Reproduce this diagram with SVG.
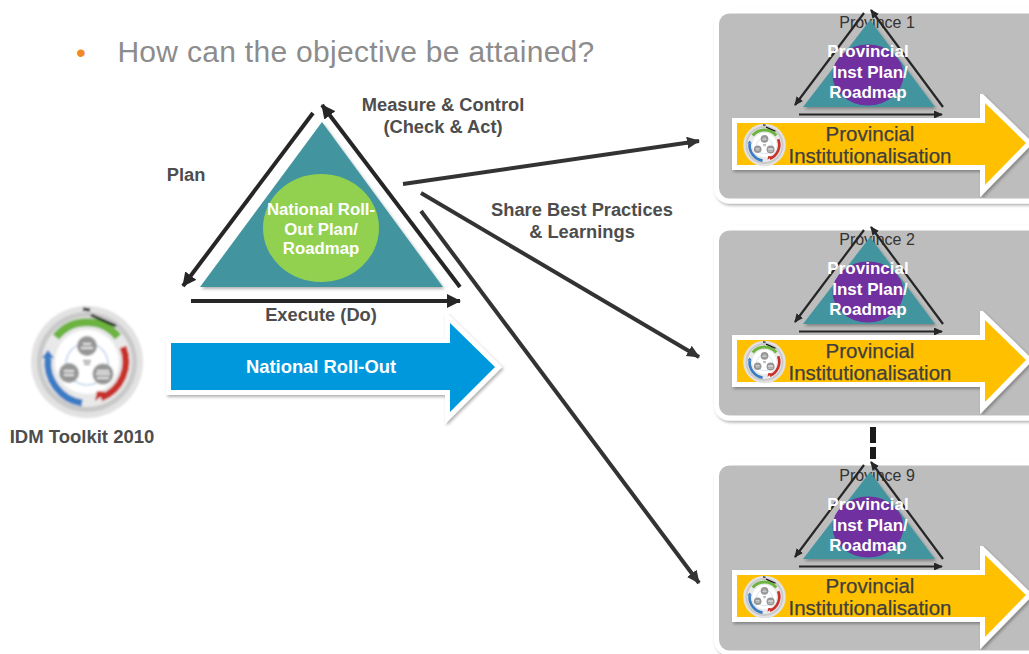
<svg xmlns="http://www.w3.org/2000/svg" xmlns:xlink="http://www.w3.org/1999/xlink" width="1029" height="654" viewBox="0 0 1029 654">
<style>
text{font-family:"Liberation Sans",Arial,sans-serif;text-anchor:middle}
.lab{font-size:18.300px;font-weight:bold;fill:#4d4d4d}
.wt{font-weight:bold;fill:#fff}
.pw{font-size:17px}
.pd{font-size:20.500px;fill:#3f3f3f;stroke:#3f3f3f;stroke-width:.25px}
.pn{font-size:16px;fill:#333}
.panel{fill:#bdbdbd;stroke:#fff;stroke-width:5px}
.tri{fill:#43959f}
.lp{fill:none;stroke:#262626;stroke-width:4px}
.sp{fill:none;stroke:#262626;stroke-width:2.200px}
.cn{fill:none;stroke:#333;stroke-width:4px}
.yel{fill:#ffc000;stroke:#fff;stroke-width:10px;paint-order:stroke}
</style>
<defs>
<filter id="sh" x="-10%" y="-10%" width="125%" height="125%"><feDropShadow dx="1.500" dy="2" stdDeviation="1.500" flood-color="#000" flood-opacity=".3"/></filter>
<filter id="soft" x="-10%" y="-10%" width="120%" height="120%"><feGaussianBlur stdDeviation=".8"/></filter>
<marker id="mL" markerUnits="userSpaceOnUse" markerWidth="16" markerHeight="14" refX="13" refY="7" orient="auto"><path d="M0 0L14 7L0 14z" fill="#262626"/></marker>
<marker id="mS" markerUnits="userSpaceOnUse" markerWidth="10" markerHeight="10" refX="8" refY="4" orient="auto"><path d="M0 0L9 4L0 8z" fill="#262626"/></marker>
<marker id="mC" markerUnits="userSpaceOnUse" markerWidth="14" markerHeight="12" refX="12" refY="6" orient="auto"><path d="M0 0L13 6L0 12z" fill="#333"/></marker>
<g id="tk" filter="url(#soft)">
<circle r="56" fill="#e2e2e2"/>
<circle r="50" fill="#c9c9c9"/>
<circle r="45" fill="#e9e9e9"/>
<circle r="32" fill="#fff"/>
<path d="M-31-25A40 40 0 0 1 31-25" fill="none" stroke="#6cb33f" stroke-width="8"/>
<path d="M36-15A39 39 0 0 1 14 36" fill="none" stroke="#c8302c" stroke-width="7"/>
<path d="M20 30L8 39L10 29z" fill="#c8302c"/>
<path d="M-5 41A41 41 0 0 1-39-4" fill="none" stroke="#3a7cc4" stroke-width="7"/>
<path d="M-45-4L-39-12L-33-4z" fill="#3a7cc4"/>
<path d="M-4-53L3-52M4-47L29-36" fill="none" stroke="#111" stroke-width="3"/>
<circle cy="2" r="21" fill="none" stroke="#a9c4e4" stroke-width="1.200"/>
<circle cy="-16" r="10" fill="#969696"/>
<circle cx="-18" cy="11" r="10" fill="#969696"/>
<circle cx="16" cy="12" r="10.500" fill="#969696"/>
<path d="M-4-18H4M-6-14H6M-23 9H-13M-23 13H-13M10 9H22M9 12H23M10 16H22" stroke="#fff" stroke-width="1.500"/>
<path d="M-4-1H4M-3 2H3" stroke="#333" stroke-width="1"/>
</g>
</defs>

<g id="title">
<text x="81" y="62" style="font-size:28px;fill:#f08a24">•</text>
<text x="356" y="62" style="font-size:30px;letter-spacing:.3px;fill:#8c8c8c">How can the objective be attained?</text>
</g>

<g id="national-triangle">
<path class="tri" filter="url(#sh)" d="M322 122L443 287H200z"/>
<ellipse cx="321" cy="228" rx="58" ry="54" fill="#92d050"/>
<text class="wt" x="321" y="215" style="font-size:16.800px">National Roll-</text>
<text class="wt" x="321" y="235" style="font-size:16.800px">Out Plan/</text>
<text class="wt" x="321" y="254" style="font-size:16.800px">Roadmap</text>
</g>

<g id="cycle-arrows">
<path class="lp" d="M313 113L183 286" marker-end="url(#mL)"/>
<path class="lp" d="M460 287L322 105" marker-end="url(#mL)"/>
<path class="lp" d="M191 301H460" marker-end="url(#mL)"/>
</g>

<g id="cycle-labels">
<text class="lab" x="443" y="111">Measure &amp; Control</text>
<text class="lab" x="443" y="133">(Check &amp; Act)</text>
<text class="lab" x="186" y="181">Plan</text>
<text class="lab" x="321" y="321">Execute (Do)</text>
<text class="lab" x="582" y="216">Share Best Practices</text>
<text class="lab" x="582" y="238">&amp; Learnings</text>
</g>

<g id="national-rollout">
<path filter="url(#sh)" d="M171 343H450V323L495 367L450 412V390H171z" style="fill:#0098dc;stroke:#fff;stroke-width:10px;paint-order:stroke"/>
<text class="wt" x="321" y="373" style="font-size:18.400px">National Roll-Out</text>
</g>

<g id="idm-toolkit">
<use href="#tk" xlink:href="#tk" transform="translate(87 362)"/>
<text x="82" y="443" style="font-size:18.500px;font-weight:bold;fill:#4d4d4d">IDM Toolkit 2010</text>
</g>

<g id="connectors">
<path class="cn" d="M403 184L699 141" marker-end="url(#mC)"/>
<path class="cn" d="M421 193L699 357" marker-end="url(#mC)"/>
<path class="cn" d="M421 211L699 583" marker-end="url(#mC)"/>
<path d="M873 427V443M873 447V459" fill="none" stroke="#1a1a1a" stroke-width="6"/>
</g>

<g id="province-1">
<rect class="panel" filter="url(#sh)" x="716.500" y="11" width="340" height="190" rx="13"/>
<text class="pn" x="877" y="28">Province 1</text>
<path class="tri" filter="url(#sh)" d="M870 20L935 107H803z"/>
<ellipse cx="868" cy="75" rx="35.500" ry="30.500" fill="#7030a0"/>
<path class="sp" d="M864 13L795 105" marker-end="url(#mS)"/>
<path class="sp" d="M943 107L871 10" marker-end="url(#mS)"/>
<path class="sp" d="M799 114.500H942" marker-end="url(#mS)"/>
<text class="wt pw" x="868" y="57">Provincial</text>
<text class="wt pw" x="870" y="78">Inst Plan/</text>
<text class="wt pw" x="868" y="98">Roadmap</text>
<path class="yel" filter="url(#sh)" d="M737 123H985V103L1026 143L985 185V165H737z"/>
<use href="#tk" xlink:href="#tk" transform="translate(764.500 145) scale(.38)"/>
<text class="pd" x="870" y="141">Provincial</text>
<text class="pd" x="870" y="163">Institutionalisation</text>
</g>

<g id="province-2">
<rect class="panel" filter="url(#sh)" x="716.500" y="228" width="340" height="190" rx="13"/>
<text class="pn" x="877" y="245">Province 2</text>
<path class="tri" filter="url(#sh)" d="M870 237L935 324H803z"/>
<ellipse cx="868" cy="292" rx="35.500" ry="30.500" fill="#7030a0"/>
<path class="sp" d="M864 230L795 322" marker-end="url(#mS)"/>
<path class="sp" d="M943 324L871 227" marker-end="url(#mS)"/>
<path class="sp" d="M799 331.500H942" marker-end="url(#mS)"/>
<text class="wt pw" x="868" y="274">Provincial</text>
<text class="wt pw" x="870" y="295">Inst Plan/</text>
<text class="wt pw" x="868" y="315">Roadmap</text>
<path class="yel" filter="url(#sh)" d="M737 340H985V320L1026 360L985 402V382H737z"/>
<use href="#tk" xlink:href="#tk" transform="translate(764.500 362) scale(.38)"/>
<text class="pd" x="870" y="358">Provincial</text>
<text class="pd" x="870" y="380">Institutionalisation</text>
</g>

<g id="province-9">
<rect class="panel" filter="url(#sh)" x="716.500" y="463" width="340" height="190" rx="13"/>
<text class="pn" x="877" y="481">Province 9</text>
<path class="tri" filter="url(#sh)" d="M870 472L935 559H803z"/>
<ellipse cx="868" cy="527" rx="35.500" ry="30.500" fill="#7030a0"/>
<path class="sp" d="M864 465L795 557" marker-end="url(#mS)"/>
<path class="sp" d="M943 559L871 462" marker-end="url(#mS)"/>
<path class="sp" d="M799 566.500H942" marker-end="url(#mS)"/>
<text class="wt pw" x="868" y="510">Provincial</text>
<text class="wt pw" x="870" y="531">Inst Plan/</text>
<text class="wt pw" x="868" y="551">Roadmap</text>
<path class="yel" filter="url(#sh)" d="M737 575H985V555L1026 595L985 637V617H737z"/>
<use href="#tk" xlink:href="#tk" transform="translate(764.500 597) scale(.38)"/>
<text class="pd" x="870" y="593">Provincial</text>
<text class="pd" x="870" y="615">Institutionalisation</text>
</g>
</svg>
